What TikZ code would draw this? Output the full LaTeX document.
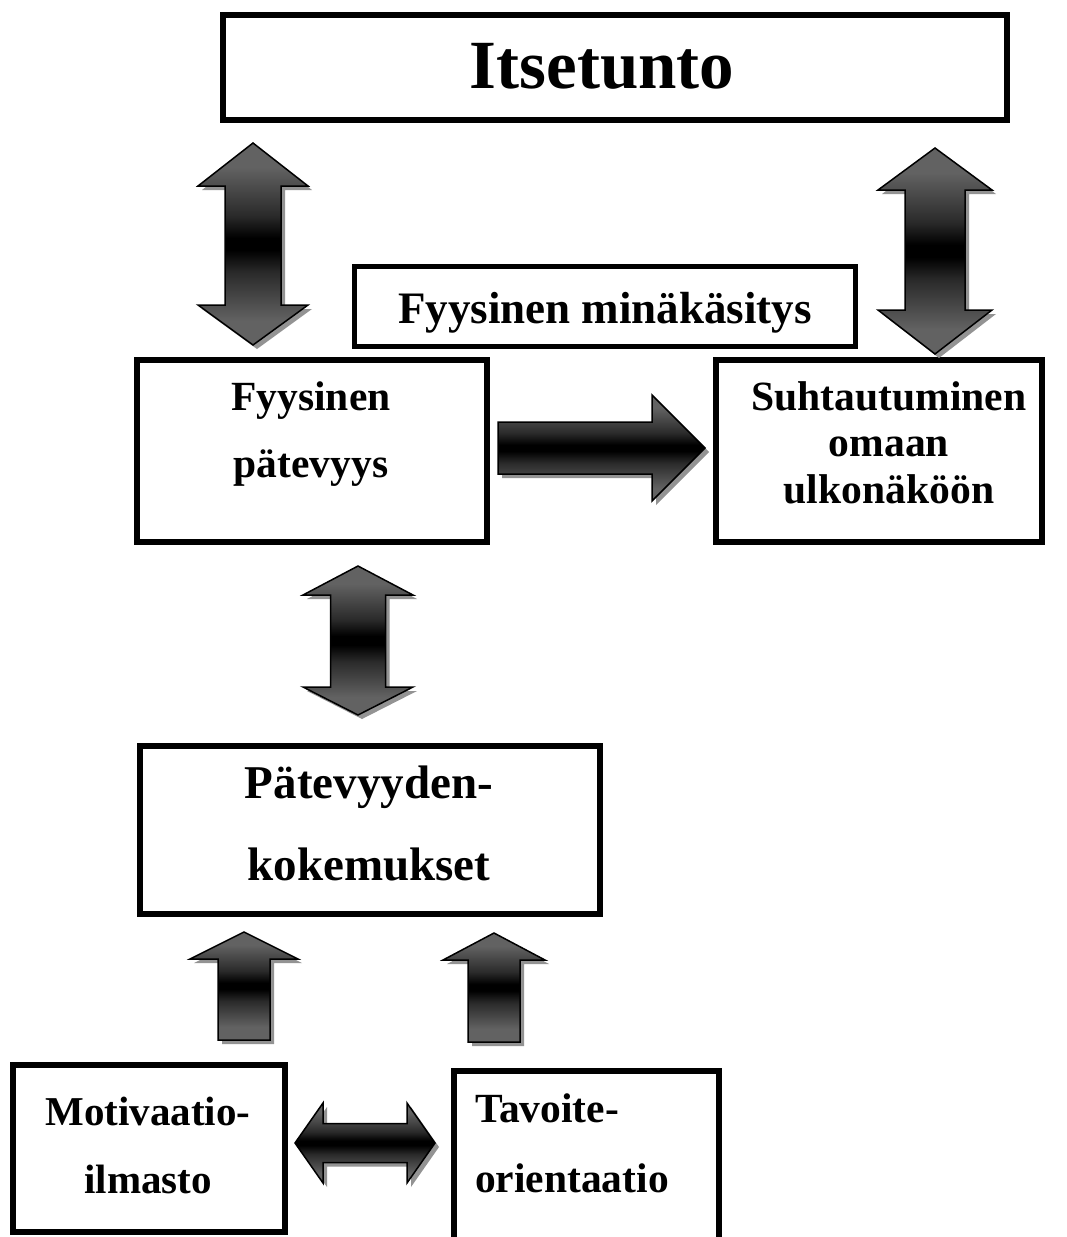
\documentclass[tikz,border=0pt]{standalone}
\usepackage{fontspec}
\setmainfont{Liberation Serif}
\definecolor{arrgray}{HTML}{626262}
\definecolor{arrdark}{HTML}{2A2A2A}
\definecolor{shadowgray}{HTML}{939393}
\pgfdeclareverticalshading{arrowshade}{100bp}{color(0bp)=(arrgray); color(25bp)=(arrgray); color(31bp)=(arrgray); color(43bp)=(arrdark); color(48.5bp)=(black); color(51.5bp)=(black); color(57bp)=(arrdark); color(69bp)=(arrgray); color(75bp)=(arrgray); color(100bp)=(arrgray)}
\newcommand\clines[2]{\vtop{\baselineskip=#1pt\lineskiplimit=-100pt\halign{\hfil##\hfil\cr#2\crcr}}}
\newcommand\llines[2]{\vtop{\baselineskip=#1pt\lineskiplimit=-100pt\halign{##\hfil\cr#2\crcr}}}
\newcommand\fs[1]{\fontsize{#1}{#1}\selectfont\bfseries}
% vertical double arrow: style, cx, ytip, yhb1, yhb2, ybot, headhalf, shafthalf
\newcommand\vdpath[8]{\path[#1] (#2,#3) -- ({#2+#7},#4) -- ({#2+#8},#4) -- ({#2+#8},#5) -- ({#2+#7},#5) -- (#2,#6) -- ({#2-#7},#5) -- ({#2-#8},#5) -- ({#2-#8},#4) -- ({#2-#7},#4) -- cycle;}
\newcommand\VDarrow[7]{\vdpath{arrowshadow}{#1}{#2}{#3}{#4}{#5}{#6}{#7}\vdpath{arrowbody}{#1}{#2}{#3}{#4}{#5}{#6}{#7}}
% up arrow: style, cx, ytip, yhb, ybot, headhalf, shafthalf
\newcommand\uppath[7]{\path[#1] (#2,#3) -- ({#2+#6},#4) -- ({#2+#7},#4) -- ({#2+#7},#5) -- ({#2-#7},#5) -- ({#2-#7},#4) -- ({#2-#6},#4) -- cycle;}
\newcommand\UParrow[6]{\uppath{arrowshadow}{#1}{#2}{#3}{#4}{#5}{#6}\uppath{arrowbody}{#1}{#2}{#3}{#4}{#5}{#6}}
% right arrow: style, x0, xhb, xtip, yc, headhalf, shafthalf
\newcommand\rpath[7]{\path[#1] (#2,{#5-#7}) -- (#3,{#5-#7}) -- (#3,{#5-#6}) -- (#4,#5) -- (#3,{#5+#6}) -- (#3,{#5+#7}) -- (#2,{#5+#7}) -- cycle;}
\newcommand\Rarrow[6]{\rpath{arrowshadow}{#1}{#2}{#3}{#4}{#5}{#6}\rpath{arrowbody}{#1}{#2}{#3}{#4}{#5}{#6}}
% horizontal double arrow: style, xtipL, xhbL, xhbR, xtipR, yc, headhalf, shafthalf
\newcommand\hdpath[8]{\path[#1] (#2,#6) -- (#3,{#6-#7}) -- (#3,{#6-#8}) -- (#4,{#6-#8}) -- (#4,{#6-#7}) -- (#5,#6) -- (#4,{#6+#7}) -- (#4,{#6+#8}) -- (#3,{#6+#8}) -- (#3,{#6+#7}) -- cycle;}
\newcommand\HDarrow[7]{\hdpath{arrowshadow}{#1}{#2}{#3}{#4}{#5}{#6}{#7}\hdpath{arrowbody}{#1}{#2}{#3}{#4}{#5}{#6}{#7}}
\tikzset{
  box/.style={draw=black, line width=5.5pt, fill=white, inner sep=0pt, rectangle},
  lbl/.style={inner sep=0pt, anchor=base},
  arrowbody/.style={shade, shading=arrowshade, draw=black, line width=1.5pt, line join=miter},
  arrowshadow/.style={fill=shadowgray, shift={(4,4)}},
}
\begin{document}
\begin{tikzpicture}[x=1pt, y=-1pt]
\useasboundingbox (0,0) rectangle (1066,1237);
\fill[white] (0,0) rectangle (1066,1237);

% boxes
\node[box, line width=6pt, minimum width=784pt, minimum height=105pt] (it) at (615,67.5) {};
\node[box, line width=5pt, minimum width=501pt, minimum height=80pt] (fm) at (605,306.5) {};
\node[box, minimum width=350pt, minimum height=182pt] (fp) at (312,451) {};
\node[box, minimum width=326pt, minimum height=182pt] (su) at (879,451) {};
\node[box, minimum width=460pt, minimum height=168pt] (pk) at (370,830) {};
\node[box, minimum width=272pt, minimum height=167pt] (mi) at (149,1148.5) {};
\node[box, minimum width=265pt, minimum height=176pt] (to) at (586.5,1159) {};

% labels
\node[lbl, font=\fs{69}] (itl) at (602,88) {Itsetunto};
\node[lbl, font=\fs{45}] (fml) at (605,323) {Fyysinen minäkäsitys};
\node[lbl, font=\fs{41.5}] (fpl) at (311,410) {\clines{67}{Fyysinen\cr pätevyys}};
\node[lbl, font=\fs{41.6}] (sul) at (889,410) {\clines{46.5}{Suhtautuminen\cr omaan\cr ulkonäköön}};
\node[lbl, font=\fs{47}] (pkl) at (369,798) {\clines{82}{Pätevyyden-\cr kokemukset}};
\node[lbl, font=\fs{41}] (mil) at (148,1125) {\clines{68}{Motivaatio-\cr ilmasto}};
\node[lbl, anchor=base west, font=\fs{41.5}] (tol) at (475,1122) {\llines{70}{Tavoite-\cr orientaatio}};

% block arrows
\VDarrow{253}{143}{186}{305}{345}{55}{28}
\VDarrow{935}{148}{190}{310}{354}{57}{30}
\Rarrow{498}{652}{705}{448}{53}{26}
\VDarrow{358}{566}{595}{687}{715}{55}{27.5}
\UParrow{244}{932}{959}{1040}{54}{26}
\UParrow{494}{933}{960}{1042}{51}{26}
\HDarrow{295}{323}{407}{435}{1143}{40}{19.5}
\end{tikzpicture}
\end{document}
